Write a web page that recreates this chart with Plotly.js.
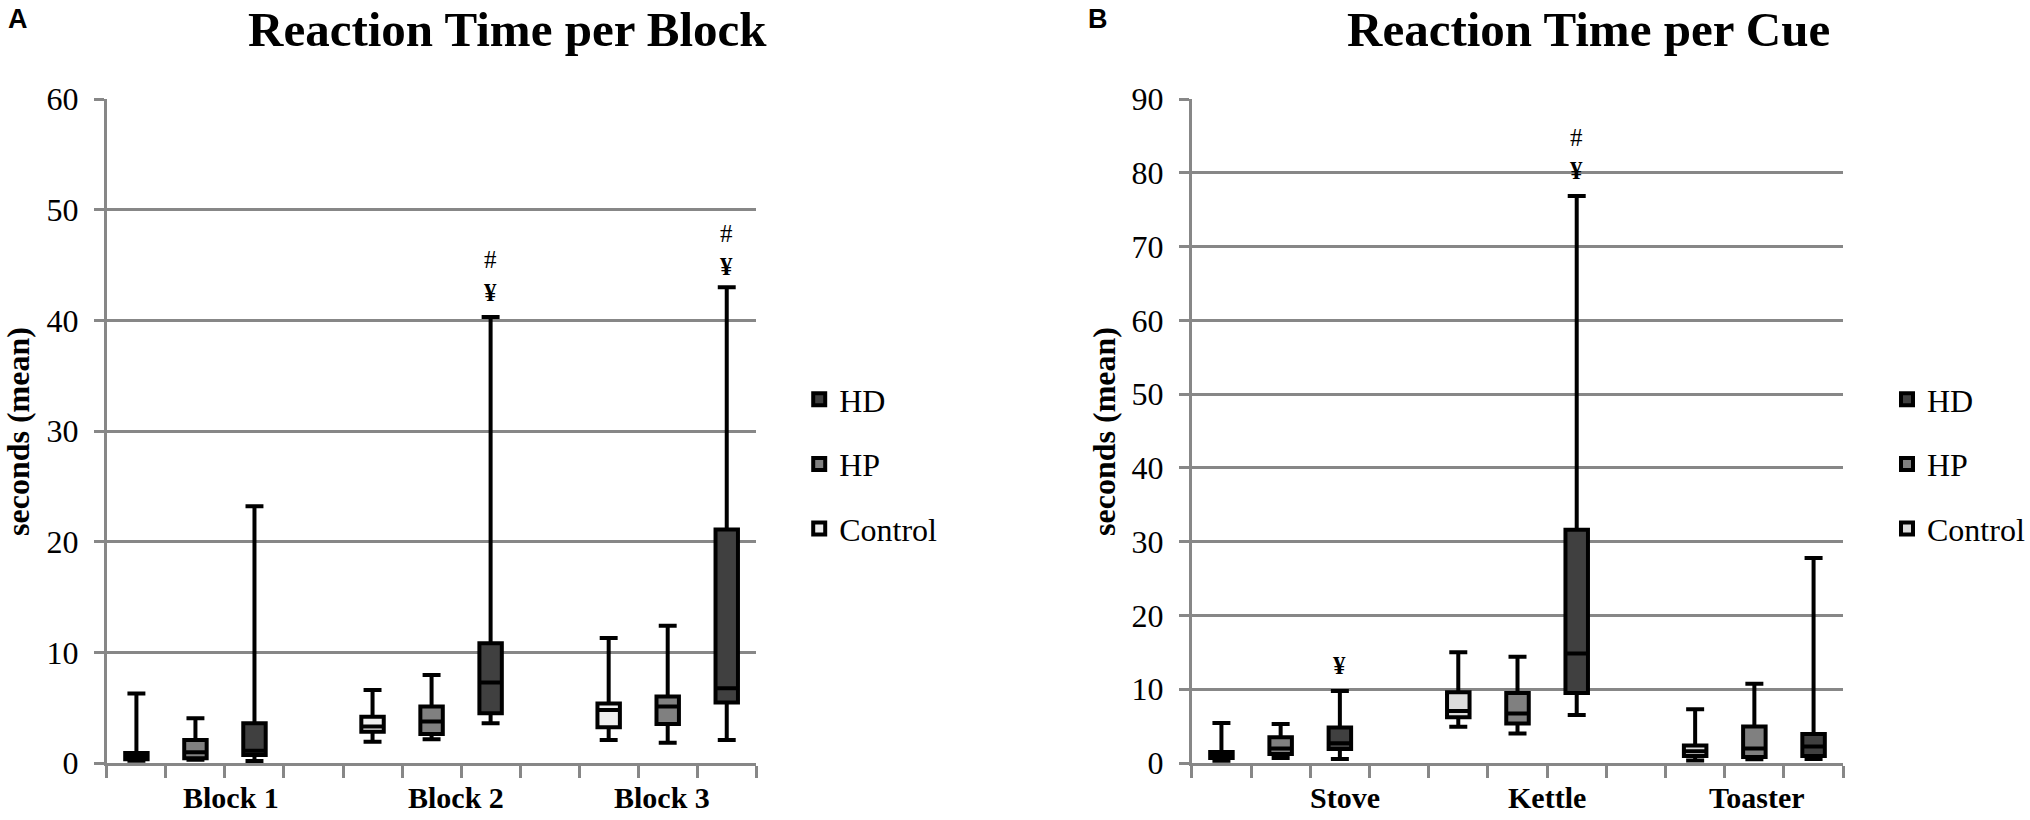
<!DOCTYPE html>
<html>
<head>
<meta charset="utf-8">
<script src="https://cdn.plot.ly/plotly-3.0.1.min.js"></script>
<style>html,body{margin:0;padding:0;background:#fff;}#chart{width:2030px;height:820px;}</style>
</head>
<body>
<div id="chart"></div>
<script>
// ---------- data ----------
const groups = ['HD', 'HP', 'Control'];

const blockCats = ['Block 1', 'Block 2', 'Block 3'];
const blockHD_q1 = [0.72, 4.5, 5.46];
const blockHD_med = [1.1, 7.27, 6.76];
const blockHD_q3 = [3.59, 10.83, 21.1];
const blockHD_lo = [0.18, 3.59, 2.08];
const blockHD_hi = [23.2, 40.3, 43.0];
const blockHP_q1 = [0.42, 2.62, 3.53];
const blockHP_med = [0.97, 3.74, 5.1];
const blockHP_q3 = [2.08, 5.1, 6.0];
const blockHP_lo = [0.3, 2.14, 1.84];
const blockHP_hi = [4.05, 7.96, 12.4];
const blockCtl_q1 = [0.33, 2.83, 3.23];
const blockCtl_med = [0.6, 3.29, 4.8];
const blockCtl_q3 = [0.9, 4.19, 5.37];
const blockCtl_lo = [0.2, 1.93, 2.08];
const blockCtl_hi = [6.27, 6.6, 11.3];

const cueCats = ['Stove', 'Kettle', 'Toaster'];
const cueHD_q1 = [1.9, 9.5, 0.95];
const cueHD_med = [2.67, 14.85, 2.24];
const cueHD_q3 = [4.81, 31.6, 3.93];
const cueHD_lo = [0.54, 6.5, 0.54];
const cueHD_hi = [9.76, 76.85, 27.8];
const cueHP_q1 = [1.22, 5.35, 0.8];
const cueHP_med = [1.95, 6.7, 1.95];
const cueHP_q3 = [3.5, 9.5, 4.95];
const cueHP_lo = [0.68, 4.0, 0.5];
const cueHP_hi = [5.29, 14.4, 10.74];
const cueCtl_q1 = [0.68, 6.2, 0.95];
const cueCtl_med = [1.0, 7.05, 1.6];
const cueCtl_q3 = [1.49, 9.6, 2.37];
const cueCtl_lo = [0.3, 4.93, 0.33];
const cueCtl_hi = [5.42, 15.0, 7.27];

// significance marks above the HD box: category index, symbols, centre value
const blockMarkCat = [1, 2];
const blockMarkText = ['#<br><b>¥</b>', '#<br><b>¥</b>'];
const blockMarkY = [44.0, 46.4];
const cueMarkCat = [0, 1];
const cueMarkText = ['<b>¥</b>', '#<br><b>¥</b>'];
const cueMarkY = [13.2, 82.5];

// ---------- layout helpers ----------
const SERIF = 'Liberation Serif, Times New Roman, serif';
const SANS = 'Liberation Sans, Arial, sans-serif';
const GRID = '#878787';
const groupSlot = {Control: 0, HP: 1, HD: 2};
function slotX(catIdx, group) { return catIdx * 4 + groupSlot[group] + 0.5; }
const fillA = {HD: '#404040', HP: '#808080', Control: '#eeeeee'};
const fillB = {HD: '#404040', HP: '#808080', Control: '#dcdcdc'};

function boxTrace(name, cats, q1, med, q3, lo, hi, xa, ya, fill, legend) {
  return {
    type: 'box', name: name, legendgroup: legend + name, legend: legend,
    x: cats.map((c, i) => slotX(i, name)),
    q1: q1, median: med, q3: q3, lowerfence: lo, upperfence: hi,
    boxpoints: false, width: 0.38, whiskerwidth: 0.8,
    fillcolor: fill[name], line: {color: '#000000', width: 4},
    xaxis: xa, yaxis: ya, hoverinfo: 'y'
  };
}

const data = [
  boxTrace('HD', blockCats, blockHD_q1, blockHD_med, blockHD_q3, blockHD_lo, blockHD_hi, 'x', 'y', fillA, 'legend'),
  boxTrace('HP', blockCats, blockHP_q1, blockHP_med, blockHP_q3, blockHP_lo, blockHP_hi, 'x', 'y', fillA, 'legend'),
  boxTrace('Control', blockCats, blockCtl_q1, blockCtl_med, blockCtl_q3, blockCtl_lo, blockCtl_hi, 'x', 'y', fillA, 'legend'),
  boxTrace('HD', cueCats, cueHD_q1, cueHD_med, cueHD_q3, cueHD_lo, cueHD_hi, 'x2', 'y2', fillB, 'legend2'),
  boxTrace('HP', cueCats, cueHP_q1, cueHP_med, cueHP_q3, cueHP_lo, cueHP_hi, 'x2', 'y2', fillB, 'legend2'),
  boxTrace('Control', cueCats, cueCtl_q1, cueCtl_med, cueCtl_q3, cueCtl_lo, cueCtl_hi, 'x2', 'y2', fillB, 'legend2')
];

const W = 2030, H = 820;
const px = v => v / W, py = v => (H - v) / H;
const yDom = [py(763), py(99)];
const slotTicks = Array.from({length: 12}, (_, i) => i);

function baseX(dom, yname) {
  return {domain: dom, anchor: yname, range: [0, 11], tickmode: 'array', tickvals: slotTicks,
    showticklabels: false, ticks: 'outside', ticklen: 12, tickwidth: 3, tickcolor: GRID,
    showline: true, linecolor: GRID, linewidth: 3, showgrid: false, zeroline: false, fixedrange: true};
}
function baseY(xname, max) {
  return {domain: yDom, anchor: xname, range: [0, max], dtick: 10, tick0: 0,
    showgrid: true, gridcolor: GRID, gridwidth: 3, showline: true, linecolor: GRID, linewidth: 3,
    ticks: 'outside', ticklen: 10, tickwidth: 3, tickcolor: GRID, ticklabelstandoff: 9,
    tickfont: {family: SERIF, size: 32, color: '#000'}, zeroline: false, fixedrange: true};
}

const blockLabelPos = [2.1, 5.91, 9.4];
const cueLabelPos = [2.58, 6.0, 9.55];

const annotations = [
  {text: 'Reaction Time per Block', xref: 'paper', yref: 'paper', x: px(508), y: 1, xanchor: 'center', yanchor: 'top', showarrow: false, font: {family: SERIF, size: 49, color: '#000', weight: 'bold'}},
  {text: 'Reaction Time per Cue', xref: 'paper', yref: 'paper', x: px(1590), y: 1, xanchor: 'center', yanchor: 'top', showarrow: false, font: {family: SERIF, size: 49, color: '#000', weight: 'bold'}},
  {text: 'A', xref: 'paper', yref: 'paper', x: px(6), y: py(19), xanchor: 'left', yanchor: 'middle', showarrow: false, font: {family: SANS, size: 27, color: '#000', weight: 'bold'}},
  {text: 'B', xref: 'paper', yref: 'paper', x: px(1087), y: py(19), xanchor: 'left', yanchor: 'middle', showarrow: false, font: {family: SANS, size: 27, color: '#000', weight: 'bold'}},
  {text: 'seconds (mean)', xref: 'paper', yref: 'paper', x: px(18), y: py(431), xanchor: 'center', yanchor: 'middle', textangle: -90, showarrow: false, font: {family: SERIF, size: 32, color: '#000', weight: 'bold'}},
  {text: 'seconds (mean)', xref: 'paper', yref: 'paper', x: px(1105), y: py(431), xanchor: 'center', yanchor: 'middle', textangle: -90, showarrow: false, font: {family: SERIF, size: 32, color: '#000', weight: 'bold'}}
];
const catFont = {family: SERIF, size: 30, color: '#000', weight: 'bold'};
blockCats.forEach((c, i) => annotations.push({text: c, xref: 'x', yref: 'paper', x: blockLabelPos[i], y: py(797), xanchor: 'center', yanchor: 'middle', showarrow: false, font: catFont}));
cueCats.forEach((c, i) => annotations.push({text: c, xref: 'x2', yref: 'paper', x: cueLabelPos[i], y: py(797), xanchor: 'center', yanchor: 'middle', showarrow: false, font: catFont}));
const markFont = {family: SERIF, size: 25, color: '#000'};
blockMarkCat.forEach((c, i) => annotations.push({text: blockMarkText[i], xref: 'x', yref: 'y', x: slotX(c, 'HD'), y: blockMarkY[i], showarrow: false, xanchor: 'center', yanchor: 'middle', font: markFont}));
cueMarkCat.forEach((c, i) => annotations.push({text: cueMarkText[i], xref: 'x2', yref: 'y2', x: slotX(c, 'HD'), y: cueMarkY[i], showarrow: false, xanchor: 'center', yanchor: 'middle', font: markFont}));

const legendBase = {yanchor: 'middle', xanchor: 'left', y: py(464), bgcolor: 'rgba(0,0,0,0)',
  font: {family: SERIF, size: 32, color: '#000'}, tracegroupgap: 20, itemclick: false, itemdoubleclick: false};

const layout = {
  width: W, height: H, margin: {l: 0, r: 0, t: 0, b: 0},
  paper_bgcolor: '#ffffff', plot_bgcolor: 'rgba(0,0,0,0)',
  boxmode: 'overlay', showlegend: true,
  xaxis: baseX([px(107), px(757)], 'y'),
  xaxis2: baseX([px(1193), px(1845)], 'y2'),
  yaxis: baseY('x', 60),
  yaxis2: baseY('x2', 90),
  legend: Object.assign({}, legendBase, {x: px(800)}),
  legend2: Object.assign({}, legendBase, {x: px(1889)}),
  annotations: annotations
};

Plotly.newPlot('chart', data, layout, {displayModeBar: false, staticPlot: true});
</script>
</body>
</html>
